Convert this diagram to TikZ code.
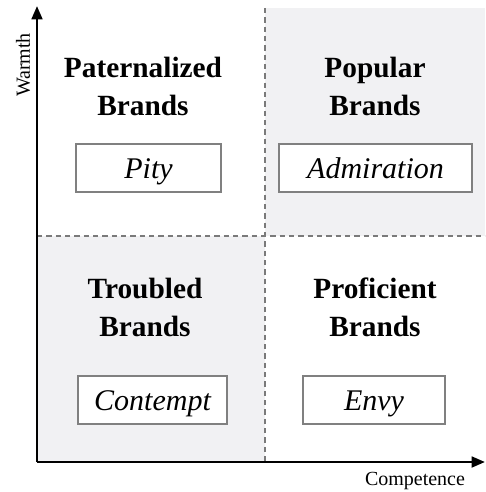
\documentclass[tikz,border=0pt]{standalone}
\usepackage{fontspec}
\setmainfont{Liberation Serif}
\usetikzlibrary{arrows.meta}
\definecolor{quadshade}{HTML}{F1F1F3}
\definecolor{divgray}{HTML}{7A7A7A}
\tikzset{
  axis/.style={line width=2pt, -{Triangle[length=10pt,width=8pt]}},
  divider/.style={dashed, dash pattern=on 4pt off 3pt, divgray, line width=1pt},
  quadtitle/.style={align=center, font=\fontsize{22}{28.5}\selectfont\bfseries},
  feeling/.style={draw=gray, line width=0.8pt, fill=white, minimum height=36pt,
    inner sep=0pt, text height=15pt, text depth=0pt,
    font=\fontsize{22.5}{27}\selectfont\itshape},
  axislabel/.style={font=\fontsize{15}{18}\selectfont}
}
\begin{document}
\begin{tikzpicture}[x=0.75pt,y=-0.75pt]
\useasboundingbox (0,0) rectangle (485,492);
% shaded quadrants
\fill[quadshade] (265,8) rectangle (485,236);
\fill[quadshade] (37,236) rectangle (265,462);
\draw[divider] (265,8)--(265,462);
\draw[divider] (37,236)--(485,236);
% axes
\coordinate (origin) at (37,462);
\coordinate (ytop) at (37,6);
\coordinate (xend) at (485,462);
\draw[axis] (origin)--(ytop);
\draw[axis] (origin)--(xend);
\node[axislabel,rotate=90] (warmth) at (23,65) {Warmth};
\node[axislabel] (competence) at (415,481) {Competence};
% quadrant titles
\node[quadtitle] (paternal) at (143,86) {Paternalized\\Brands};
\node[quadtitle] (popular) at (375,86) {Popular\\Brands};
\node[quadtitle] (troubled) at (145,307) {Troubled\\Brands};
\node[quadtitle] (proficient) at (375,307) {Proficient\\Brands};
% feelings
\node[feeling,minimum width=108.75pt] (pity) at (148.5,168) {Pity};
\node[feeling,minimum width=144.75pt] (admiration) at (375.5,168) {Admiration};
\node[feeling,minimum width=111.75pt] (contempt) at (152.5,400) {Contempt};
\node[feeling,minimum width=106.5pt] (envy) at (374,400) {Envy};
\end{tikzpicture}
\end{document}
